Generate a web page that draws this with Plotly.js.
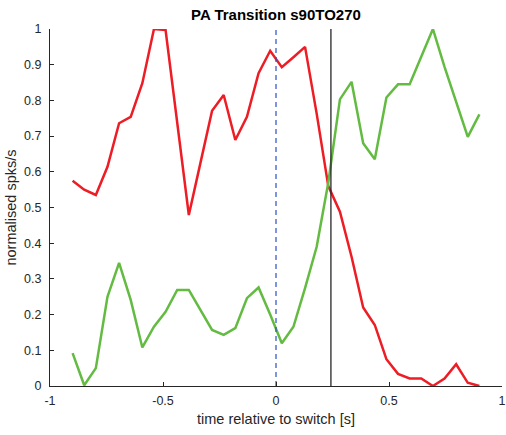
<!DOCTYPE html>
<html><head><meta charset="utf-8">
<script src="https://cdn.plot.ly/plotly-3.0.1.min.js"></script>
<style>html,body{margin:0;padding:0;background:#fff}#c{width:506px;height:435px}</style>
</head><body><div id="c"></div>
<script>
// time bins (36 points, -0.9 .. 0.9)
const nBins = 36;
const t = Array.from({length: nBins}, (_, i) => -0.9 + i * 1.8 / (nBins - 1));
const redSeries = [0.575,0.55,0.535,0.614,0.736,0.754,0.848,1.0,0.997,0.745,0.479,0.625,
  0.771,0.815,0.689,0.754,0.876,0.939,0.893,0.921,0.950,0.763,0.56,0.488,0.362,0.220,
  0.171,0.075,0.034,0.021,0.021,0.0,0.021,0.061,0.009,0.0];
const greenSeries = [0.092,0.002,0.05,0.25,0.345,0.241,0.108,0.166,0.208,0.269,0.269,0.213,
  0.157,0.143,0.162,0.246,0.276,0.2,0.12,0.166,0.274,0.39,0.57,0.803,0.852,0.680,
  0.635,0.808,0.845,0.845,0.922,1.0,0.894,0.796,0.698,0.761];
const switchX = 0;
const transitionX = 0.243;
const xTicks = [-1,-0.5,0,0.5,1];
const xTickText = ['-1','-0.5','0','0.5','1'];
const yTicks = [0,0.1,0.2,0.3,0.4,0.5,0.6,0.7,0.8,0.9,1];
const yTickText = ['0','0.1','0.2','0.3','0.4','0.5','0.6','0.7','0.8','0.9','1'];

const font = 'Liberation Sans, Arial, Helvetica, sans-serif';
const traces = [
  {x: t, y: redSeries, type: 'scatter', mode: 'lines', line: {color: '#ee1c24', width: 2.5}, hoverinfo: 'skip'},
  {x: t, y: greenSeries, type: 'scatter', mode: 'lines', line: {color: '#63bb42', width: 2.5}, hoverinfo: 'skip'},
  {x: [switchX, switchX], y: [0, 1], type: 'scatter', mode: 'lines', line: {color: '#2b4fc3', width: 1.2, dash: '5px,4px'}, hoverinfo: 'skip'},
  {x: [transitionX, transitionX], y: [0, 1], type: 'scatter', mode: 'lines', line: {color: '#262626', width: 1.3}, hoverinfo: 'skip'}
];
const layout = {
  width: 506, height: 435,
  margin: {l: 50, r: 4, t: 29, b: 49},
  paper_bgcolor: '#fff', plot_bgcolor: '#fff',
  showlegend: false,
  font: {family: font, color: '#262626', size: 12},
  title: {text: '<b>PA Transition s90TO270</b>', font: {family: font, size: 15, color: '#000'}, xref: 'paper', x: 0.5, xanchor: 'center', yref: 'container', y: 0.978, yanchor: 'top'},
  xaxis: {range: [-1, 1], tickvals: xTicks, ticktext: xTickText, ticks: 'inside', ticklen: 4, tickcolor: '#262626',
    showline: true, linecolor: '#262626', linewidth: 1, zeroline: false, showgrid: false, mirror: false,
    ticklabelstandoff: 3,
    tickfont: {size: 12.5, color: '#262626'},
    title: {text: 'time relative to switch [s]', font: {size: 14.5, color: '#262626'}, standoff: 6}},
  yaxis: {range: [0, 1], tickvals: yTicks, ticktext: yTickText, ticks: 'inside', ticklen: 4, tickcolor: '#262626',
    showline: true, linecolor: '#262626', linewidth: 1, zeroline: false, showgrid: false, mirror: false,
    ticklabelstandoff: 5,
    tickfont: {size: 12.5, color: '#262626'},
    title: {text: 'normalised spks/s', font: {size: 14.5, color: '#262626'}, standoff: 4}}
};
Plotly.newPlot('c', traces, layout, {staticPlot: true, displayModeBar: false});
</script></body></html>
